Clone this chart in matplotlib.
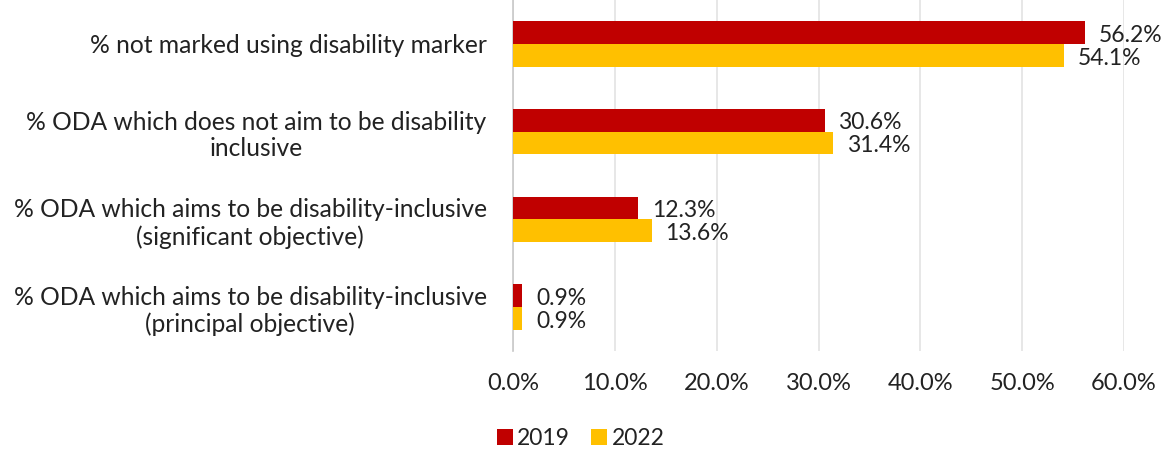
import numpy as np
import matplotlib
matplotlib.use("Agg")
import matplotlib.pyplot as plt
from matplotlib.ticker import FuncFormatter

plt.rcParams["font.family"] = ["Lato", "DejaVu Sans"]

categories = [
    "% not marked using disability marker",
    "% ODA which does not aim to be disability\ninclusive",
    "% ODA which aims to be disability-inclusive\n(significant objective)",
    "% ODA which aims to be disability-inclusive\n(principal objective)",
]
years = ["2019", "2022"]
vals_2019 = [56.2, 30.6, 12.3, 0.9]
vals_2022 = [54.1, 31.4, 13.6, 0.9]
colors = ["#C00000", "#FFC000"]
xticks = [0, 10, 20, 30, 40, 50, 60]

fig = plt.figure(figsize=(11.61, 4.5), dpi=100)
ax = fig.add_axes([0.4419, 0.22, 0.5262, 0.78])

y = np.arange(len(categories))
h = 0.26
for vals, off, c, lab in [(vals_2019, -h / 2, colors[0], years[0]),
                          (vals_2022, h / 2, colors[1], years[1])]:
    bars = ax.barh(y + off, vals, height=h, color=c, label=lab, zorder=3)
    for b, v in zip(bars, vals):
        ax.annotate(f"{v:.1f}%", (v, b.get_y() + b.get_height() / 2),
                    xytext=(10, -2), textcoords="offset points",
                    va="center", ha="left", fontsize=16.5, color="#222222")

ax.set_ylim(len(categories) - 0.5, -0.5)
ax.set_xlim(0, 60)
ax.set_xticks(xticks)
ax.xaxis.set_major_formatter(FuncFormatter(lambda v, p: f"{v:.1f}%"))
ax.set_yticks(y)
ax.set_yticklabels(categories, fontsize=17.7, color="#222222")
for t in ax.get_yticklabels():
    t.set_multialignment("center")
ax.tick_params(axis="x", labelsize=17, colors="#222222", length=0, pad=16)
ax.tick_params(axis="y", length=0, pad=19)

ax.grid(axis="x", color="#E3E3E3", linewidth=1.2, zorder=0)
for s in ["top", "right", "bottom"]:
    ax.spines[s].set_visible(False)
ax.spines["left"].set_color("#C8C8C8")
ax.spines["left"].set_linewidth(1.2)

fig.legend(loc="center", bbox_to_anchor=(0.5, 0.025), ncol=2, frameon=False,
           fontsize=16.5, handlelength=0.7, handleheight=0.7, handletextpad=0.2,
           columnspacing=0.9, labelcolor="#222222")

fig.savefig("out.png", dpi=100)
